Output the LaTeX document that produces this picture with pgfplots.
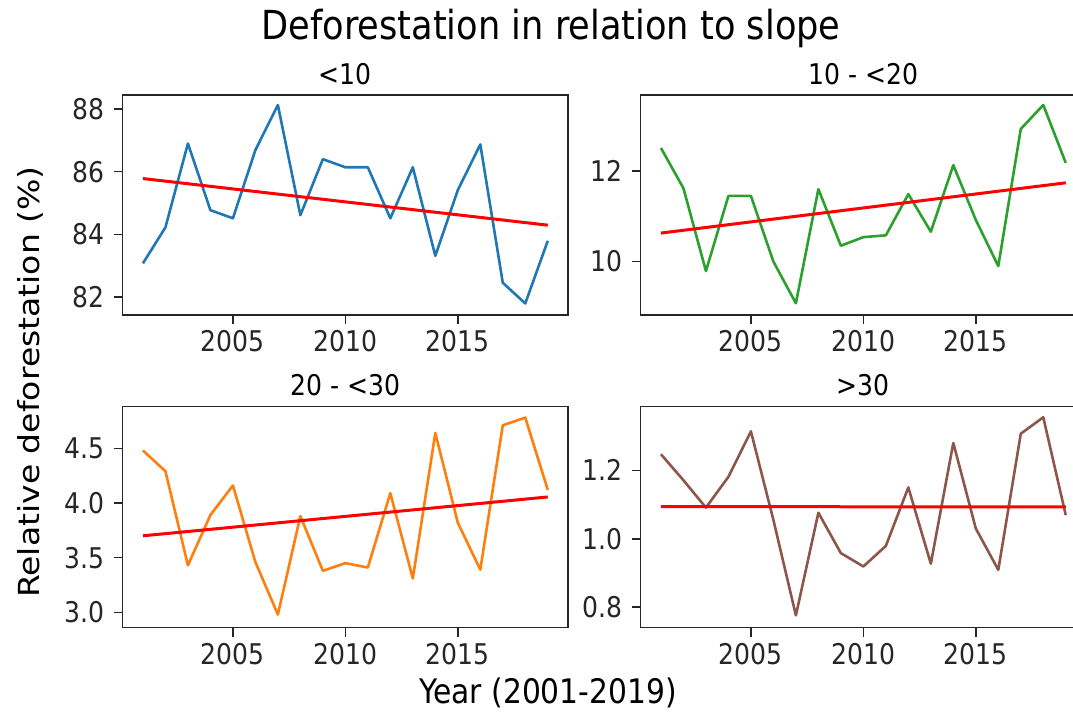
\documentclass[border=0pt]{standalone}
\usepackage{pgfplots}
\pgfplotsset{compat=1.18}
\usepackage{fontspec}
\setmainfont{DejaVu Sans}[FakeStretch=0.88]
\newfontfamily\ylfont{DejaVu Sans}[FakeStretch=1.14]
\definecolor{tabblue}{HTML}{1F77B4}
\definecolor{tabgreen}{HTML}{2CA02C}
\definecolor{taborange}{HTML}{FF7F0E}
\definecolor{tabbrown}{HTML}{8C564B}
\definecolor{spine}{HTML}{262626}
\pgfplotsset{
  panel/.style={
    scale only axis, width=445.3pt, anchor=south west,
    xmin=2000.1, xmax=2019.9, xtick={2005,2010,2015},
    tick pos=left, tick align=outside, major tick length=9pt,
    axis line style={line width=1.5pt, spine},
    every tick/.style={line width=1.5pt, spine},
    tick label style={font=\fontsize{28.5}{30}\selectfont, text=spine},
    yticklabel style={xshift=-6pt},
    xticklabel style={yshift=-3pt},
    /pgf/number format/assume math mode=true,
    /pgf/number format/1000 sep={},
    title style={font=\fontsize{28.5}{30}\selectfont, text=black, yshift=1pt},
  },
  data/.style={line width=2.6pt, line join=round},
  trend/.style={line width=3pt, red},
}
\pgfplotstableread{
year a b c d
2001 83.07 12.51 4.48 1.247
2002 84.22 11.62 4.29 1.171
2003 86.90 9.79 3.43 1.091
2004 84.77 11.45 3.89 1.181
2005 84.51 11.45 4.16 1.314
2006 86.69 10.00 3.46 1.055
2007 88.13 9.08 2.98 0.776
2008 84.61 11.60 3.88 1.076
2009 86.40 10.35 3.38 0.958
2010 86.14 10.54 3.45 0.919
2011 86.14 10.58 3.41 0.979
2012 84.51 11.49 4.09 1.150
2013 86.14 10.66 3.31 0.927
2014 83.31 12.13 4.64 1.280
2015 85.41 10.92 3.82 1.030
2016 86.87 9.90 3.39 0.909
2017 82.45 12.93 4.71 1.307
2018 81.79 13.46 4.78 1.355
2019 83.79 12.18 4.12 1.069
}\datatable
\begin{document}
\begin{tikzpicture}
\begin{axis}[panel, at={(122.7pt,398pt)}, height=220pt,
  ymin=81.42, ymax=88.45, ytick={82,84,86,88}, title={<10}]
\addplot[data, tabblue] table[x=year, y=a] {\datatable};
\addplot[trend] coordinates {(2001,85.78) (2019,84.29)};
\end{axis}
\begin{axis}[panel, at={(640.7pt,398pt)}, height=220pt,
  ymin=8.82, ymax=13.68, ytick={10,12}, title={10 - <20}]
\addplot[data, tabgreen] table[x=year, y=b] {\datatable};
\addplot[trend] coordinates {(2001,10.63) (2019,11.74)};
\end{axis}
\begin{axis}[panel, at={(122.7pt,85.3pt)}, height=221pt,
  ymin=2.86, ymax=4.88, ytick={3.0,3.5,4.0,4.5},
  yticklabel style={/pgf/number format/fixed, /pgf/number format/fixed zerofill, /pgf/number format/precision=1},
  title={20 - <30}]
\addplot[data, taborange] table[x=year, y=c] {\datatable};
\addplot[trend] coordinates {(2001,3.70) (2019,4.055)};
\end{axis}
\begin{axis}[panel, at={(640.7pt,85.3pt)}, height=221pt,
  ymin=0.740, ymax=1.386, ytick={0.8,1.0,1.2},
  yticklabel style={/pgf/number format/fixed, /pgf/number format/fixed zerofill, /pgf/number format/precision=1},
  title={>30}]
\addplot[data, tabbrown] table[x=year, y=d] {\datatable};
\addplot[trend] coordinates {(2001,1.094) (2019,1.093)};
\end{axis}
\node[font=\fontsize{40}{44}\selectfont] at (551pt,685pt) {Deforestation in relation to slope};
\node[font=\fontsize{33.8}{36}\selectfont] at (548pt,20pt) {Year (2001-2019)};
\node[font=\ylfont\fontsize{29}{32}\selectfont, rotate=90] at (30pt,331pt) {Relative deforestation (\%)};
\pgfresetboundingbox
\useasboundingbox (0pt,0pt) rectangle (1073pt,713pt);
\end{tikzpicture}
\end{document}
